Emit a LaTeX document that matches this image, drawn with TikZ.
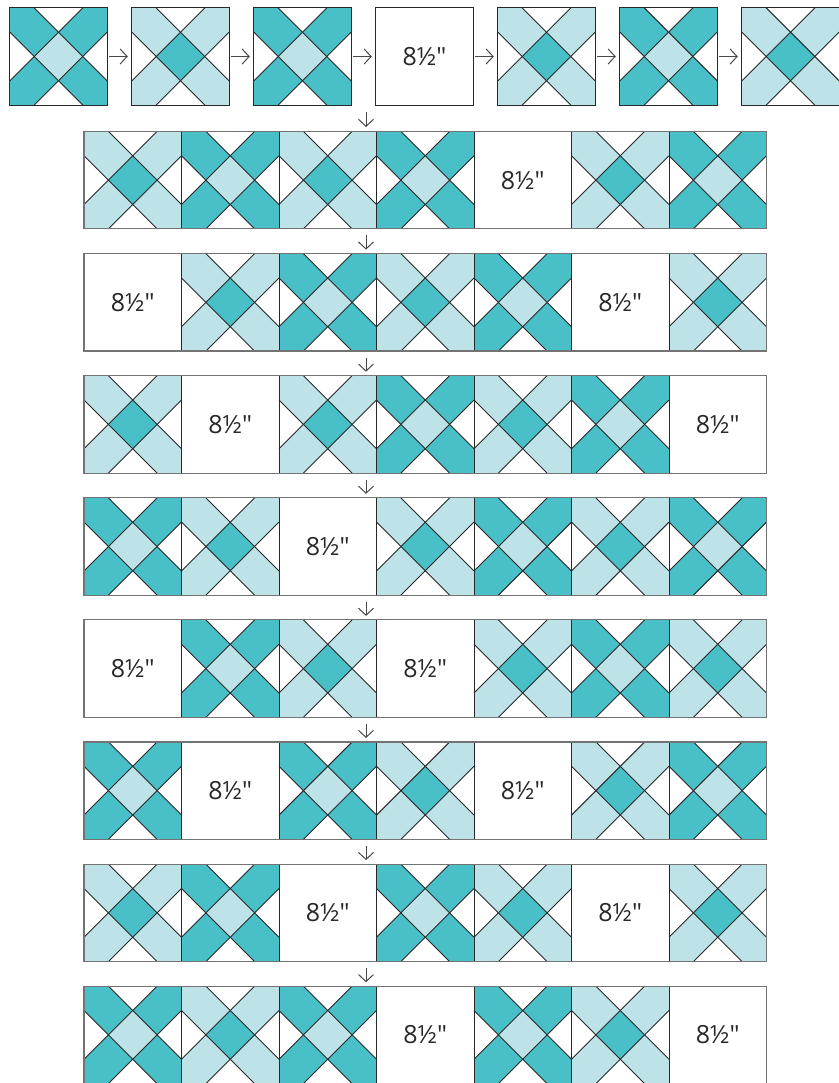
\documentclass[tikz,border=0pt]{standalone}
\usepackage{fontspec}
\newfontfamily\qf{Open Sans}
\usetikzlibrary{arrows.meta}
\definecolor{tdark}{RGB}{73,192,200}
\definecolor{tlight}{RGB}{189,227,232}
\definecolor{ink}{RGB}{40,40,40}
\definecolor{rim}{RGB}{115,115,115}
\def\hh{48.7}
\tikzset{
  pics/xq/.style 2 args={code={
    \fill[#1] (-\hh,-\hh) -- (-\hh/2,-\hh) -- (\hh,\hh/2) -- (\hh,\hh) -- (\hh/2,\hh) -- (-\hh,-\hh/2) -- cycle;
    \fill[#1] (\hh,-\hh) -- (\hh/2,-\hh) -- (-\hh,\hh/2) -- (-\hh,\hh) -- (-\hh/2,\hh) -- (\hh,-\hh/2) -- cycle;
    \fill[#2] (0,-\hh/2) -- (\hh/2,0) -- (0,\hh/2) -- (-\hh/2,0) -- cycle;
    \draw[ink,line width=0.9pt] (-\hh/2,-\hh) -- (\hh,\hh/2);
    \draw[ink,line width=0.9pt] (-\hh,-\hh/2) -- (\hh/2,\hh);
    \draw[ink,line width=0.9pt] (\hh/2,-\hh) -- (-\hh,\hh/2);
    \draw[ink,line width=0.9pt] (\hh,-\hh/2) -- (-\hh/2,\hh);
  }},
  blk/.style={draw=ink,line width=0.9pt,minimum width=97.4pt,minimum height=97.4pt,inner sep=0pt,outer sep=0pt},
  txt/.style={fill=white,font=\qf\fontsize{25}{30}\selectfont,text=ink},
  rowbox/.style={draw=rim,line width=1.1pt,minimum width=682.5pt,minimum height=97.4pt,inner sep=0pt,outer sep=0pt},
  arr/.style={draw=ink!85,line width=1pt,-{Straight Barb[length=7pt,width=15pt,line width=1pt]}},
}
\newcommand\qbD[3]{\pic at ({#2},{#3}) {xq={tdark}{tlight}}; \node[blk] (#1) at ({#2},{#3}) {};}
\newcommand\qbL[3]{\pic at ({#2},{#3}) {xq={tlight}{tdark}}; \node[blk] (#1) at ({#2},{#3}) {};}
\newcommand\qbE[3]{\node[blk,txt] (#1) at ({#2},{#3}) {8½"};}
\begin{document}
\begin{tikzpicture}[x=1pt,y=-1pt]
\fill[white] (0,0) rectangle (838,1083);
\useasboundingbox (0,0) rectangle (838,1083);
% top row
\foreach \t [count=\c] in {D,L,D,E,L,D,L} {
  \pgfmathsetmacro\xc{58.5+122*(\c-1)}
  \csname qb\t\endcsname{b-1-\c}{\xc}{56.5}
}
\node[minimum width=829pt,minimum height=97.4pt,inner sep=0pt,outer sep=0pt] (row-1) at (424.5,56.5) {};
% strip rows
\foreach \r/\lst in {2/{L,D,L,D,E,L,D},3/{E,L,D,L,D,E,L},4/{L,E,L,D,L,D,E},5/{D,L,E,L,D,L,D},6/{E,D,L,E,L,D,L},7/{D,E,D,L,E,L,D},8/{L,D,E,D,L,E,L},9/{D,L,D,E,D,L,E}} {
  \pgfmathsetmacro\yc{131.5+122.1*(\r-2)+48.7}
  \foreach \t [count=\c] in \lst {
    \pgfmathsetmacro\xc{84+48.75+97.5*(\c-1)}
    \csname qb\t\endcsname{b-\r-\c}{\xc}{\yc}
  }
  \node[rowbox] (row-\r) at (425.25,\yc) {};
}
% arrows
\foreach \c [evaluate=\c as \n using {int(\c+1)}] in {1,...,6}
  \draw[arr,shorten <=2pt,shorten >=4pt] (b-1-\c.east) -- (b-1-\n.west);
\coordinate (ax) at (366,0);
\draw[arr,shorten <=7pt,shorten >=4.5pt] (row-1.south -| ax) -- (row-2.north -| ax);
\foreach \r [evaluate=\r as \n using {int(\r+1)}] in {2,...,8}
  \draw[arr,shorten <=6.5pt,shorten >=4pt] (row-\r.south -| ax) -- (row-\n.north -| ax);
\end{tikzpicture}
\end{document}
